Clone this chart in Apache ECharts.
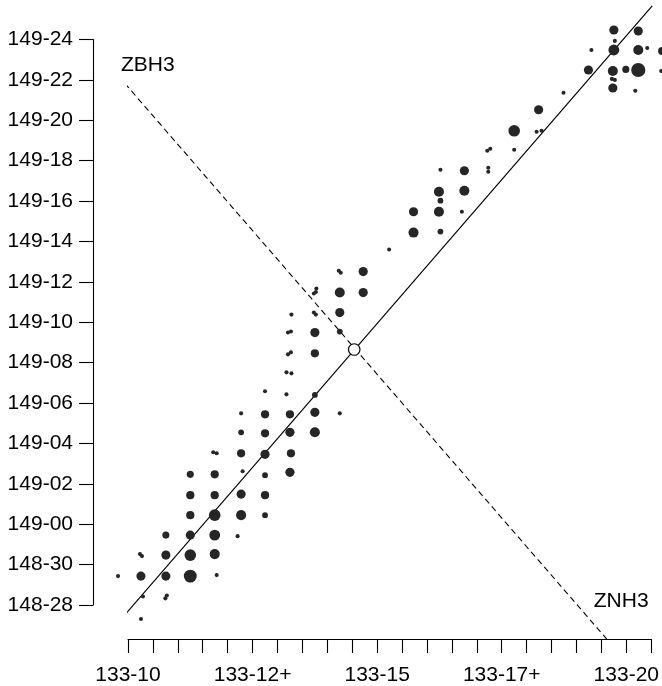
<!DOCTYPE html>
<html><head><meta charset="utf-8">
<script src="https://cdn.jsdelivr.net/npm/echarts@6/dist/echarts.min.js"></script>
<style>html,body{margin:0;padding:0;background:#fff}#c{width:662px;height:686px}</style>
</head><body><div id="c"></div><script>
// Price axes in 32nds: x = 32nds above 133-00, y = 32nds above 148-00
const xMin = 10, xMax = 20.5, xStep = 0.5;
const xLabelValues = [10, 12.5, 15, 17.5, 20];
const xLabelTexts = ['133-10', '133-12+', '133-15', '133-17+', '133-20'];
const yMin = 28, yMax = 56, yStep = 2;
const yLabelTexts = ['148-28','148-30','149-00','149-02','149-04','149-06','149-08','149-10',
                     '149-12','149-14','149-16','149-18','149-20','149-22','149-24'];

// observation clusters: [x32, y32, count]
const obs = [
 [9.80,29.43,1],
 [10.24,30.52,1],[10.28,30.42,1],[10.26,29.43,5],[10.30,28.42,1],[10.26,27.31,1],
 [10.76,31.46,3],[10.76,30.47,5],[10.76,29.43,5],[10.78,28.47,1],[10.75,28.33,1],
 [11.25,34.47,3],[11.25,33.44,4],[11.25,32.45,4],[11.25,31.46,5],[11.25,30.47,8],[11.25,29.43,10],
 [11.71,35.56,1],[11.78,35.51,1],[11.74,34.47,4],[11.74,33.44,4],[11.74,32.45,8],[11.74,31.46,7],[11.74,30.52,6],[11.78,29.48,1],
 [12.27,37.49,1],[12.27,36.55,2],[12.27,35.51,4],[12.30,34.62,1],[12.27,33.49,5],[12.27,32.45,6],[12.20,31.41,1],
 [12.75,38.58,1],[12.75,37.44,4],[12.75,36.50,4],[12.75,35.46,5],[12.75,34.43,2],[12.75,33.44,4],[12.75,32.45,2],
 [13.28,42.38,1],[13.21,41.49,1],[13.27,41.54,1],[13.21,40.41,1],[13.27,40.51,1],[13.18,39.52,1],[13.28,39.47,1],[13.18,38.43,1],
 [13.25,37.44,4],[13.25,36.55,5],[13.27,35.51,4],[13.25,34.57,5],
 [13.78,43.67,1],[13.73,43.42,1],[13.77,43.50,1],[13.73,42.48,1],[13.77,42.38,1],[13.75,41.49,5],[13.75,40.46,4],[13.75,38.40,2],[13.75,37.54,5],[13.75,36.55,6],
 [14.23,44.55,1],[14.27,44.45,1],[14.25,43.47,6],[14.25,42.48,5],[14.25,41.54,2],[14.25,37.49,1],
 [14.72,44.51,5],[14.72,43.47,5],
 [15.24,45.60,1],
 [15.73,47.47,5],[15.73,46.44,6],
 [16.27,49.55,1],[16.24,48.46,6],[16.27,48.02,2],[16.24,47.47,6],[16.27,46.49,2],
 [16.75,49.50,5],[16.75,48.51,6],[16.70,47.47,1],
 [17.21,50.49,1],[17.27,50.59,1],[17.23,49.65,1],[17.23,49.45,1],
 [17.75,51.48,8],[17.75,50.54,1],
 [18.20,51.43,1],[18.30,51.48,1],[18.24,52.52,5],
 [18.74,53.36,1],
 [19.24,54.49,5],[19.30,55.48,1],
 [19.75,56.47,5],[19.77,55.93,1],[19.75,55.48,7],[19.73,54.44,6],[19.71,54.05,1],[19.77,54.00,1],[19.73,53.60,5],
 [19.99,54.52,3],
 [20.24,56.42,5],[20.24,55.48,6],[20.24,54.49,12],[20.18,53.46,1],[20.42,55.58,1],
 [20.72,55.43,4],[20.70,54.44,1]
];

const fitLine = [[9.474, 26.19], [20.52, 57.66]];
const zLine = [[9.806, 54.20], [19.606, 26.32]];
const zLineNames = ['ZBH3', 'ZNH3'];
const crossPoint = [14.54, 40.65];

const FONT = '"Liberation Sans", Arial, Helvetica, sans-serif';
const labelOffsets = [[29.5, -10.5], [14.5, -37.5]];

function xLabel(v) {
  for (let i = 0; i < xLabelValues.length; i++) if (Math.abs(v - xLabelValues[i]) < 1e-6) return xLabelTexts[i];
  return '';
}
function yLabel(v) {
  const i = Math.round((v - yMin) / yStep);
  return yLabelTexts[i] || '';
}

const chart = echarts.init(document.getElementById('c'), null, {renderer: 'canvas'});
chart.setOption({
  animation: false,
  backgroundColor: '#fff',
  grid: {left: 128, right: 9, top: 39.5, bottom: 80},
  xAxis: {
    type: 'value', min: xMin, max: xMax, interval: xStep, offset: 34,
    axisLine: {show: true, onZero: false, lineStyle: {color: '#000', width: 1.1}},
    axisTick: {show: true, length: 14, lineStyle: {color: '#000', width: 1.1}},
    axisLabel: {margin: 26, fontSize: 21, color: '#000', fontFamily: FONT, formatter: xLabel},
    splitLine: {show: false}
  },
  yAxis: {
    type: 'value', min: yMin, max: yMax, interval: yStep, offset: 35,
    axisLine: {show: true, onZero: false, lineStyle: {color: '#000', width: 1.1}},
    axisTick: {show: true, length: 14, lineStyle: {color: '#000', width: 1.1}},
    axisLabel: {margin: 20, fontSize: 21, color: '#000', fontFamily: FONT, formatter: yLabel},
    splitLine: {show: false}
  },
  series: [
    {type: 'line', data: fitLine, clip: false, symbol: 'none', silent: true,
     lineStyle: {color: '#000', width: 1.2}, z: 2},
    {type: 'line', data: zLine, clip: false, symbol: 'none', silent: true,
     lineStyle: {color: '#000', width: 1.1, type: [6, 4]}, z: 2},
    {type: 'scatter', data: obs, clip: false,
     symbolSize: d => Math.max(4, 4.1 * Math.sqrt(d[2])),
     itemStyle: {color: '#262626', opacity: 1}, z: 3},
    {type: 'scatter', data: [crossPoint], clip: false, symbolSize: 11.5,
     itemStyle: {color: '#fff', borderColor: '#000', borderWidth: 1.2, opacity: 1}, z: 5},
    {type: 'scatter', clip: false, symbolSize: 0, z: 6,
     data: zLine.map((p, i) => ({value: p, name: zLineNames[i],
       label: {show: true, position: 'inside', offset: labelOffsets[i], formatter: '{b}',
               fontSize: 21, color: '#000', fontFamily: FONT}})),
     itemStyle: {color: '#000', opacity: 1}}
  ]
});
</script></body></html>
